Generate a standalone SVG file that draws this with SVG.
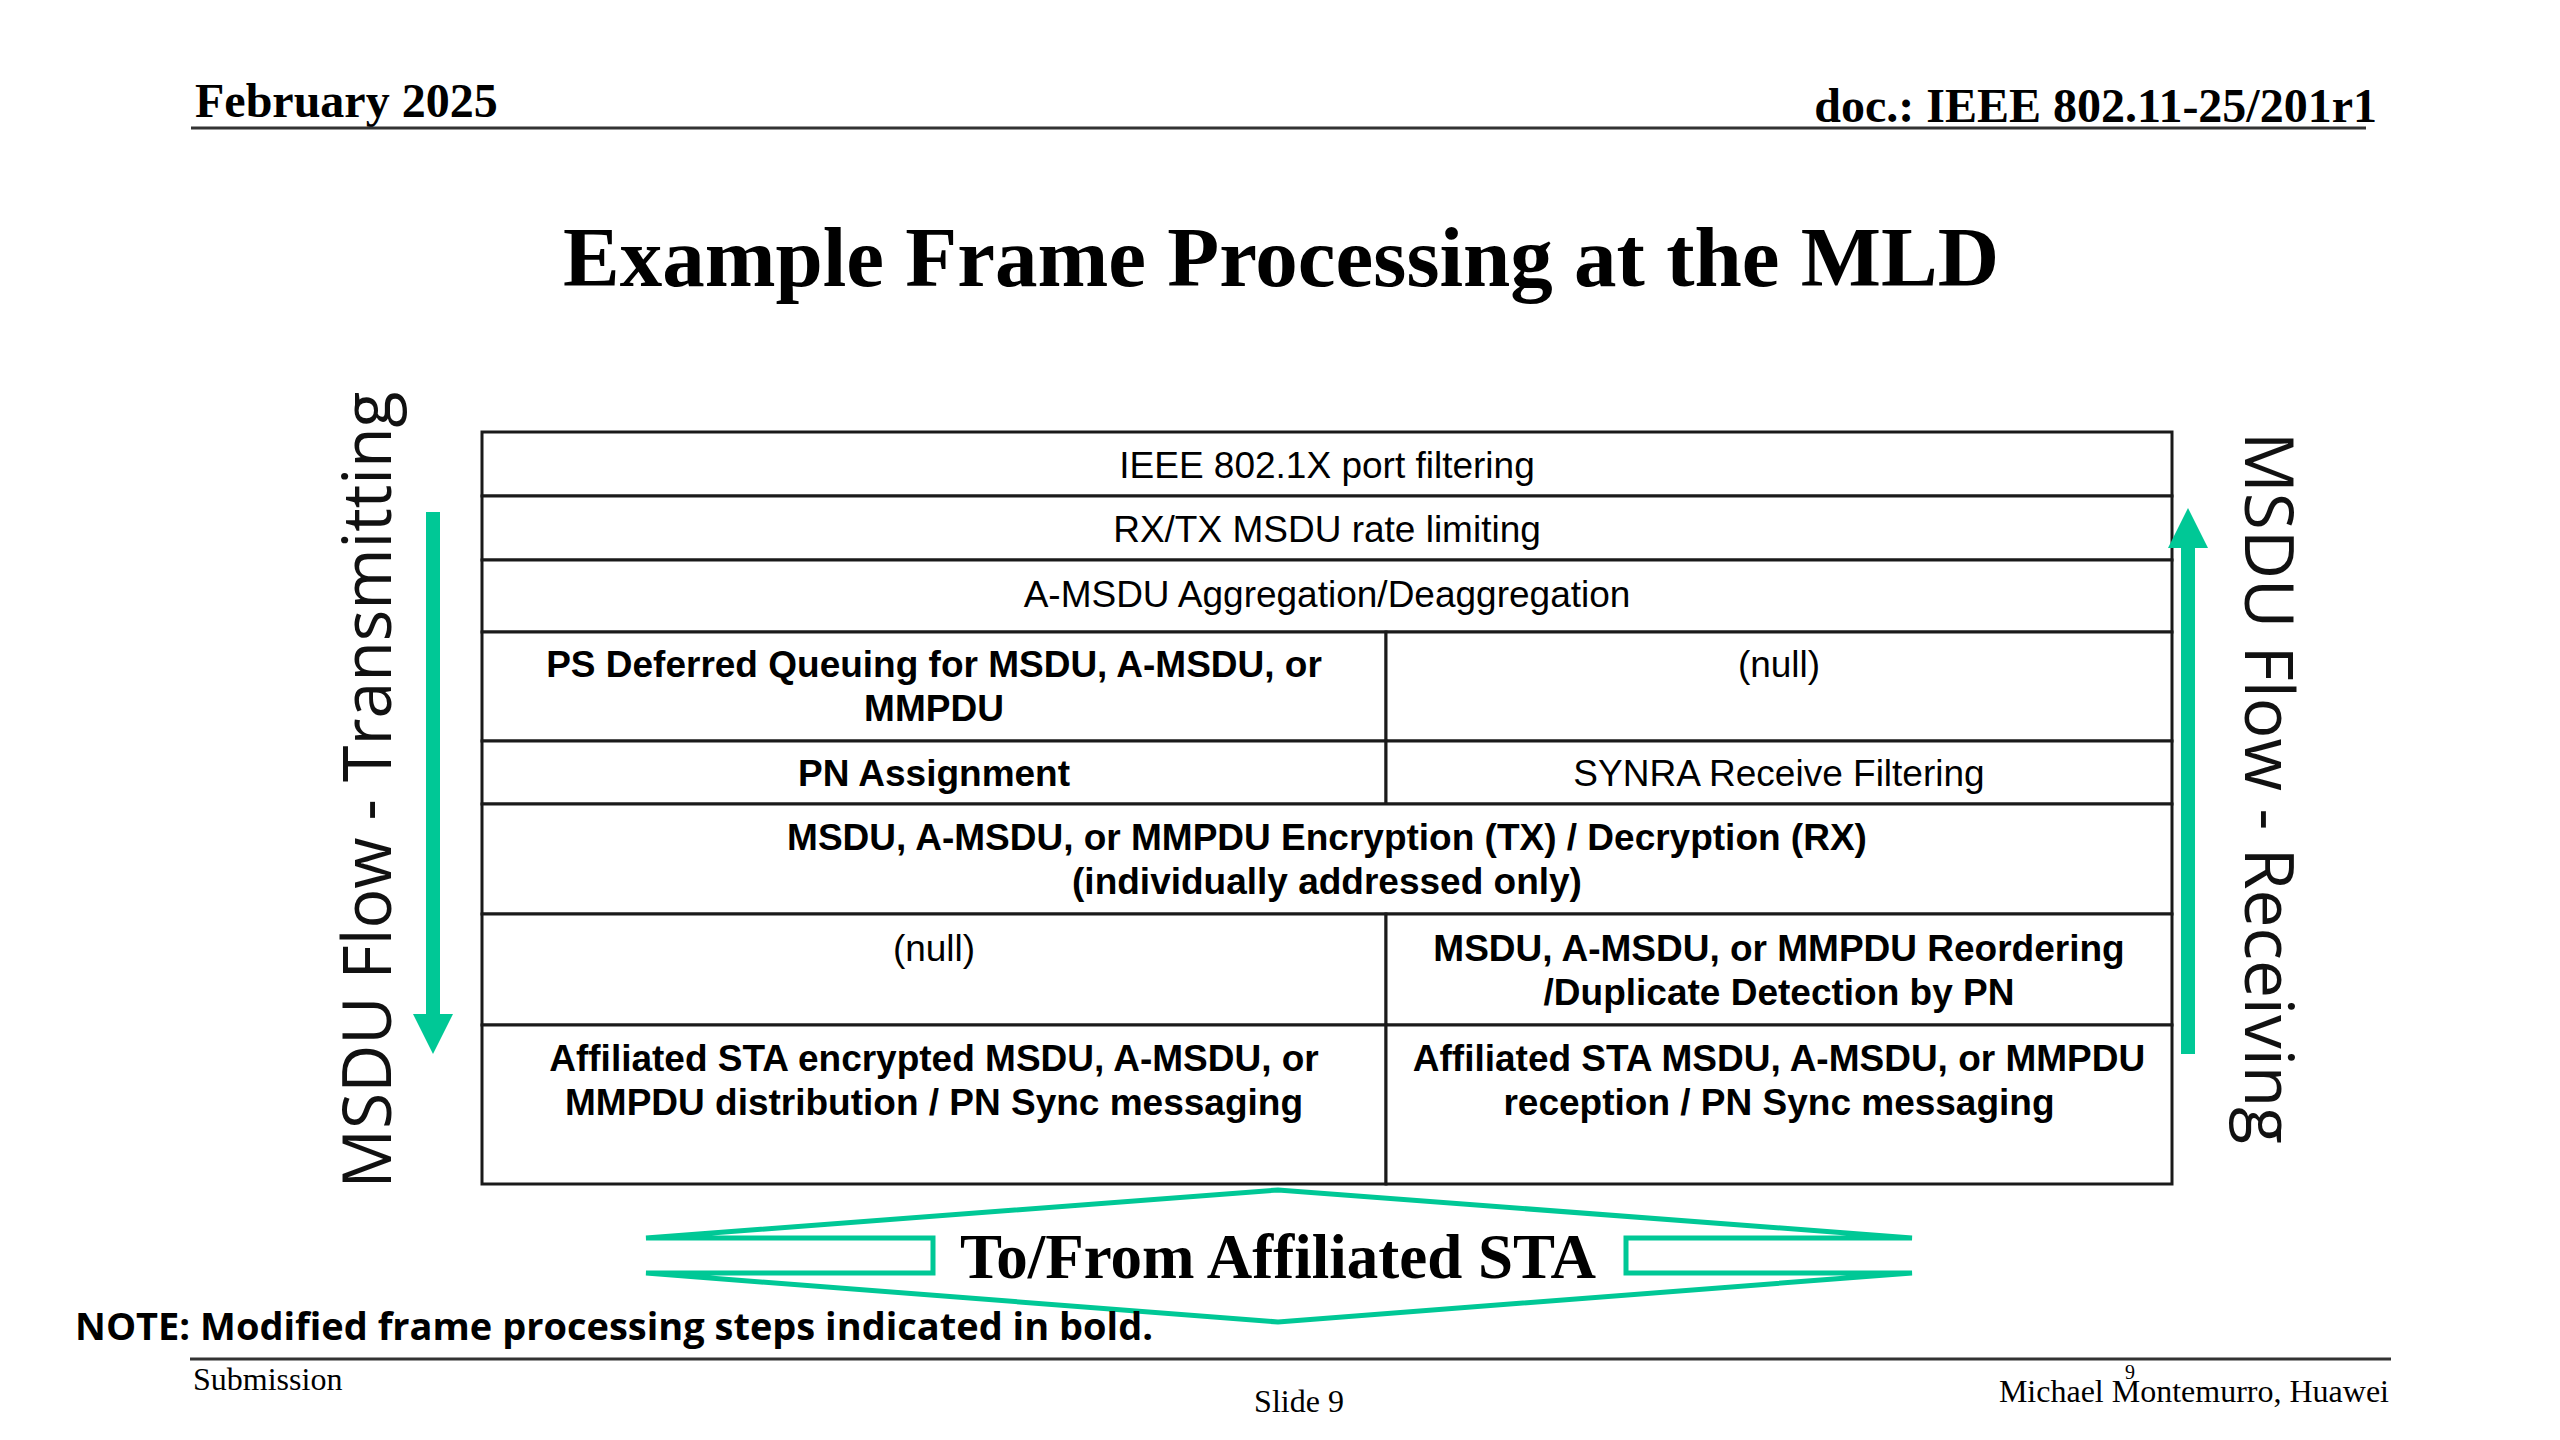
<svg xmlns="http://www.w3.org/2000/svg" width="2560" height="1440" viewBox="0 0 2560 1440">
<style>
.serif{font-family:"Liberation Serif","Times New Roman",serif;fill:#000}
.sb{font-family:"Liberation Serif","Times New Roman",serif;font-weight:bold;fill:#000}
.cell{fill:#fff;stroke:#1a1a1a;stroke-width:3}
.t{font-family:"Liberation Sans",Arial,sans-serif;font-size:37px;fill:#000;text-anchor:middle}
.b{font-weight:bold}
.flow{font-family:"Open Sans","Noto Sans",sans-serif;font-size:67px;fill:#111;text-anchor:middle}
.green{fill:none;stroke:#00C896}
.rule{stroke:#333;stroke-width:3}
</style>
<defs>
<marker id="ah" markerUnits="userSpaceOnUse" markerWidth="40" markerHeight="40" refX="0" refY="20" orient="auto">
<path d="M0,0 L40,20 L0,40 Z" fill="#00C896"/>
</marker>
</defs>
<rect width="2560" height="1440" fill="#fff"/>

<g id="header">
<text class="sb" x="195" y="117" font-size="48">February 2025</text>
<text class="sb" x="2377" y="122" font-size="48" text-anchor="end">doc.: IEEE 802.11-25/201r1</text>
<line class="rule" x1="191" y1="128" x2="2366" y2="128"/>
</g>

<g id="title">
<text class="sb" x="1281" y="286" font-size="85" text-anchor="middle">Example Frame Processing at the MLD</text>
</g>

<g id="cell-8021x">
<rect class="cell" x="482" y="432" width="1690" height="64"/>
<text class="t" x="1327" y="478">IEEE 802.1X port filtering</text>
</g>
<g id="cell-ratelimit">
<rect class="cell" x="482" y="496" width="1690" height="64"/>
<text class="t" x="1327" y="542">RX/TX MSDU rate limiting</text>
</g>
<g id="cell-amsdu">
<rect class="cell" x="482" y="560" width="1690" height="72"/>
<text class="t" x="1327" y="607">A-MSDU Aggregation/Deaggregation</text>
</g>
<g id="cell-psdeferred">
<rect class="cell" x="482" y="632" width="904" height="109"/>
<text class="t b" x="934" y="677">PS Deferred Queuing for MSDU, A-MSDU, or</text>
<text class="t b" x="934" y="721">MMPDU</text>
</g>
<g id="cell-null-rx1">
<rect class="cell" x="1386" y="632" width="786" height="109"/>
<text class="t" x="1779" y="677">(null)</text>
</g>
<g id="cell-pnassign">
<rect class="cell" x="482" y="741" width="904" height="63"/>
<text class="t b" x="934" y="786">PN Assignment</text>
</g>
<g id="cell-synra">
<rect class="cell" x="1386" y="741" width="786" height="63"/>
<text class="t" x="1779" y="786">SYNRA Receive Filtering</text>
</g>
<g id="cell-encryption">
<rect class="cell" x="482" y="804" width="1690" height="110"/>
<text class="t b" x="1327" y="850">MSDU, A-MSDU, or MMPDU Encryption (TX) / Decryption (RX)</text>
<text class="t b" x="1327" y="894">(individually addressed only)</text>
</g>
<g id="cell-null-tx">
<rect class="cell" x="482" y="914" width="904" height="111"/>
<text class="t" x="934" y="961">(null)</text>
</g>
<g id="cell-reorder">
<rect class="cell" x="1386" y="914" width="786" height="111"/>
<text class="t b" x="1779" y="961">MSDU, A-MSDU, or MMPDU Reordering</text>
<text class="t b" x="1779" y="1005">/Duplicate Detection by PN</text>
</g>
<g id="cell-distribution">
<rect class="cell" x="482" y="1025" width="904" height="159"/>
<text class="t b" x="934" y="1071">Affiliated STA encrypted MSDU, A-MSDU, or</text>
<text class="t b" x="934" y="1115">MMPDU distribution / PN Sync messaging</text>
</g>
<g id="cell-reception">
<rect class="cell" x="1386" y="1025" width="786" height="159"/>
<text class="t b" x="1779" y="1071">Affiliated STA MSDU, A-MSDU, or MMPDU</text>
<text class="t b" x="1779" y="1115">reception / PN Sync messaging</text>
</g>

<g id="label-tx">
<text class="flow" x="391" y="790" transform="rotate(-90 391 790)" textLength="797" lengthAdjust="spacingAndGlyphs">MSDU Flow - Transmitting</text>
</g>
<g id="label-rx">
<text class="flow" x="2245" y="788" transform="rotate(90 2245 788)" textLength="712" lengthAdjust="spacingAndGlyphs">MSDU Flow - Receiving</text>
</g>

<g id="connectors">
<line x1="433" y1="512" x2="433" y2="1014" stroke="#00C896" stroke-width="14" marker-end="url(#ah)"/>
<line x1="2188" y1="1054" x2="2188" y2="548" stroke="#00C896" stroke-width="14" marker-end="url(#ah)"/>
</g>

<g id="affiliated-sta">
<path class="green" stroke-width="5" stroke-linejoin="miter" d="M933,1238 L646,1238 L1278,1190 L1912,1238 L1626,1238 L1626,1273 L1912,1273 L1278,1322 L646,1273 L933,1273 Z"/>
<text class="sb" x="1278" y="1278" font-size="63" text-anchor="middle">To/From Affiliated STA</text>
</g>

<g id="note">
<text x="75" y="1340" font-family="'Open Sans','Noto Sans',sans-serif" font-weight="bold" font-size="37" fill="#000" textLength="1078" lengthAdjust="spacingAndGlyphs">NOTE: Modified frame processing steps indicated in bold.</text>
</g>

<g id="footer">
<line class="rule" x1="190" y1="1359" x2="2391" y2="1359"/>
<text class="serif" x="193" y="1390" font-size="32">Submission</text>
<text class="serif" x="1299" y="1412" font-size="32" text-anchor="middle">Slide 9</text>
<text class="serif" x="2389" y="1402" font-size="32" text-anchor="end">Michael Montemurro, Huawei</text>
<text class="serif" x="2130" y="1379" font-size="20" text-anchor="middle">9</text>
</g>
</svg>
